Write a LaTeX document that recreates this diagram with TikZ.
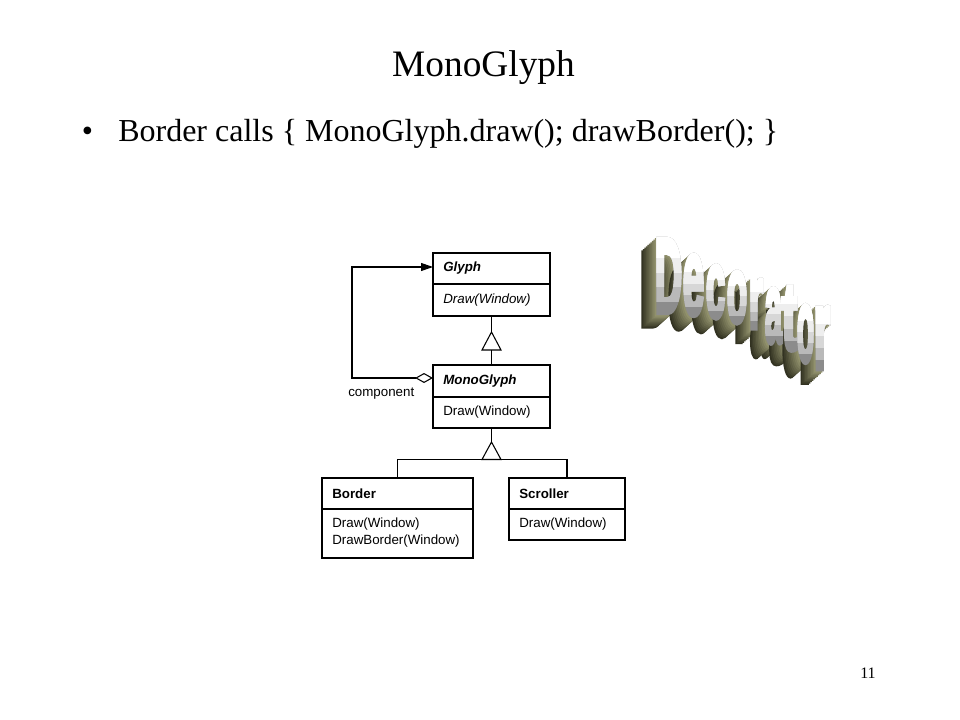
\documentclass[tikz,border=0pt]{standalone}
\usepackage{fontspec}
\usepackage{graphicx}
\setmainfont{Liberation Serif}
\newfontfamily\umlfont{Liberation Sans}
\newfontfamily\wafont{Liberation Sans}[FakeBold=6]
\usetikzlibrary{arrows.meta}
\definecolor{olivefar}{RGB}{50,50,33}
\definecolor{olivenear}{RGB}{145,145,108}
\definecolor{band0}{RGB}{140,140,140}
\definecolor{band1}{RGB}{185,185,185}
\definecolor{band2}{RGB}{215,215,215}
\definecolor{band3}{RGB}{238,238,238}
\definecolor{band4}{RGB}{255,255,255}
\def\px{0.75pt}
% extrusion of one WordArt letter: #1 letter, #2 left, #3 bottom, #4 width, #5 height (px)
\newcommand\waExt[5]{%
  \pgfmathsetlengthmacro\waW{#4*0.75pt}%
  \pgfmathsetlengthmacro\waH{#5*0.75pt}%
  \foreach \k in {10,9,...,1}{%
    \pgfmathtruncatemacro\pct{(\k-1)*100/9}%
    \node[waglyph, text=olivefar!\pct!olivenear] at ({#2-1.5*\k},{#3+1.35*\k}) {\resizebox{\waW}{\waH}{#1}};
  }%
}
% silver face of one WordArt letter
\newcommand\waFace[5]{%
  \pgfmathsetlengthmacro\waW{#4*0.75pt}%
  \pgfmathsetlengthmacro\waH{#5*0.75pt}%
  \node[waglyph, text=band0] at (#2,#3) {\resizebox{\waW}{\waH}{#1}};
  \foreach \fr/\bandc in {0.15/band1,0.35/band2,0.55/band3,0.75/band4}{%
    \begin{scope}
      \clip ({#2-4},{#3-#5-4}) rectangle ({#2+#4+5},{#3-#5*\fr});
      \node[waglyph, text=\bandc] at (#2,#3) {\resizebox{\waW}{\waH}{#1}};
    \end{scope}
  }%
}
\begin{document}
\begin{tikzpicture}[x=0.75pt,y=-0.75pt,
  cls/.style={draw, line width=0.8pt, inner sep=0pt, outer sep=0pt},
  conn/.style={line width=0.8pt},
  lbl/.style={anchor=west, inner sep=0pt, font=\umlfont\fontsize{10}{12}\selectfont},
  lblb/.style={lbl, font=\umlfont\bfseries\fontsize{10}{12}\selectfont},
  lblbi/.style={lbl, font=\umlfont\bfseries\itshape\fontsize{10}{12}\selectfont},
  lbli/.style={lbl, font=\umlfont\itshape\fontsize{10}{12}\selectfont},
  waglyph/.style={anchor=south west, inner sep=0pt, outer sep=0pt, font=\wafont\bfseries\fontsize{40}{40}\selectfont}]
\useasboundingbox[fill=white] (0,0) rectangle (960,720);

% slide texts
\node[anchor=base, inner sep=0pt, font=\fontsize{28}{34}\selectfont] (title) at (483.5,77) {MonoGlyph};
\node[anchor=base, inner sep=0pt, font=\fontsize{24}{29}\selectfont] (bullet) at (87.5,142) {•};
\node[anchor=base west, inner sep=0pt, font=\fontsize{24}{29}\selectfont] (line) at (118,142) {Border calls \{ MonoGlyph.draw(); drawBorder(); \}};
\node[anchor=base east, inner sep=0pt, font=\fontsize{12}{14}\selectfont] (page) at (876,678) {11};

% classes
\node[cls, minimum width=117*\px, minimum height=63*\px] (glyph) at (491.5,284.5) {};
\draw[conn] (glyph.west |- 0,284) -- (glyph.east |- 0,284);
\node[lblbi] (glyphname) at (443,268.5) {Glyph};
\node[lbli] (glyphop) at (443,300) {Draw(Window)};

\node[cls, minimum width=117*\px, minimum height=63*\px] (mono) at (491.5,396.5) {};
\draw[conn] (mono.west |- 0,397) -- (mono.east |- 0,397);
\node[lblbi] (mononame) at (443,381) {MonoGlyph};
\node[lbl] (monoop) at (443,412.5) {Draw(Window)};

\node[cls, minimum width=151*\px, minimum height=80*\px] (border) at (397.5,518) {};
\draw[conn] (border.west |- 0,509) -- (border.east |- 0,509);
\node[lblb] (bordername) at (332,493.5) {Border};
\node[lbl] (borderop1) at (332,524) {Draw(Window)};
\node[lbl] (borderop2) at (332,541.5) {DrawBorder(Window)};

\node[cls, minimum width=116*\px, minimum height=62*\px] (scroller) at (567,509) {};
\draw[conn] (scroller.west |- 0,509) -- (scroller.east |- 0,509);
\node[lblb] (scrollername) at (519,493.5) {Scroller};
\node[lbl] (scrollerop) at (519,524) {Draw(Window)};

% generalization Glyph <- MonoGlyph
\coordinate (t1) at (491.5,332);
\coordinate (t1b) at (491.5,350);
\draw[conn] (glyph.south) -- (t1);
\draw[conn, line join=miter] (t1) -- ++(-9.5,18) -- ++(19,0) -- cycle;
\draw[conn] (t1b) -- (mono.north);

% generalization MonoGlyph <- Border, Scroller
\coordinate (t2) at (491.5,442);
\coordinate (t2b) at (491.5,459.5);
\draw[conn] (mono.south) -- (t2);
\draw[conn, line join=miter] (t2) -- ++(-9.5,17.5) -- ++(19,0) -- cycle;
\draw[conn] (border.north) |- (t2b) -| (scroller.north);

% aggregation component
\coordinate (bend) at (352,378);
\draw[conn, {Diamond[open,length=13.5pt,width=7.5pt]}-{Triangle[length=9pt,width=6pt]}]
  (mono.west |- 0,378) -- (bend) |- (glyph.west |- 0,267);
\node[lbl] (component) at (348,394) {component};

% WordArt "Decorator": extrusions first, then faces
\waExt{D}{655}{312}{27}{72}
\waExt{e}{683}{315}{21}{58}
\waExt{c}{706}{318}{19}{51}
\waExt{o}{727}{323}{20}{50}
\waExt{r}{749}{328}{14}{48}
\waExt{a}{765}{343}{17}{53}
\waExt{t}{782}{350}{15}{62}
\waExt{o}{797}{362}{17}{55}
\waExt{r}{814}{368}{16}{60}
\waFace{D}{655}{312}{27}{72}
\waFace{e}{683}{315}{21}{58}
\waFace{c}{706}{318}{19}{51}
\waFace{o}{727}{323}{20}{50}
\waFace{r}{749}{328}{14}{48}
\waFace{a}{765}{343}{17}{53}
\waFace{t}{782}{350}{15}{62}
\waFace{o}{797}{362}{17}{55}
\waFace{r}{814}{368}{16}{60}
\end{tikzpicture}
\end{document}
